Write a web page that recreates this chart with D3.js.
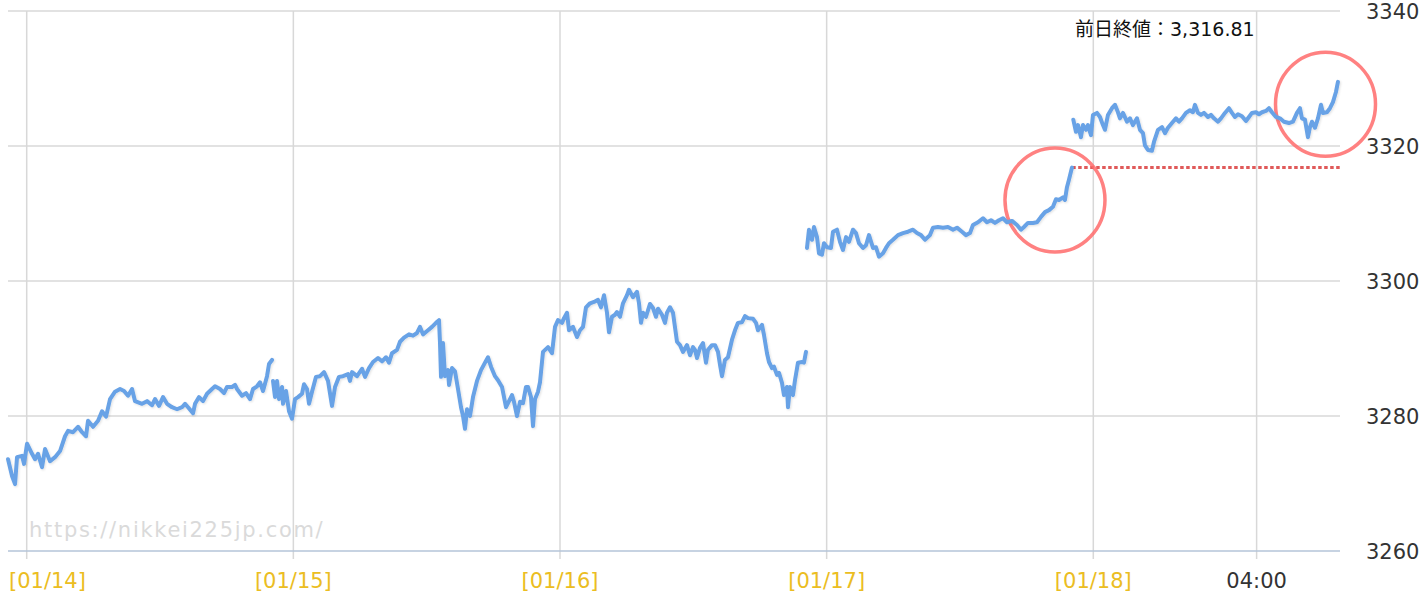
<!DOCTYPE html>
<html>
<head>
<meta charset="utf-8">
<script src="https://cdn.jsdelivr.net/npm/d3@7/dist/d3.min.js"></script>
<style>
    html, body { margin: 0; padding: 0; background: #fff; }
    svg { display: block; }
</style>
</head>
<body>
<svg id="chart" width="1425" height="597"></svg>
<script>
'use strict';

// hours from the [01/14] mark, index value
var session1 = [[-1.68,3273.6],[-1.32,3271.1],[-1.05,3269.9],[-0.87,3273.9],[-0.42,3274.1],[-0.24,3272.9],[0.03,3275.9],[0.48,3274.4],[0.75,3273.6],[1.02,3274.4],[1.38,3272.4],[1.65,3275.1],[2.10,3273.3],[2.55,3273.9],[3.00,3274.8],[3.45,3277.0],[3.72,3277.8],[4.17,3277.6],[4.62,3278.4],[4.98,3277.6],[5.34,3277.0],[5.52,3279.3],[5.97,3278.4],[6.42,3279.3],[6.78,3280.7],[7.14,3279.9],[7.50,3282.5],[7.95,3283.6],[8.40,3284.0],[8.76,3283.7],[9.12,3283.0],[9.48,3284.0],[9.75,3282.2],[10.38,3281.8],[10.83,3282.2],[11.28,3281.6],[11.55,3282.5],[11.91,3281.5],[12.27,3282.8],[12.63,3281.8],[13.08,3281.3],[13.53,3281.0],[13.98,3281.3],[14.25,3281.8],[14.52,3281.3],[14.97,3280.4],[15.15,3281.8],[15.51,3282.8],[15.87,3282.2],[16.23,3283.3],[16.68,3284.0],[16.95,3284.4],[17.40,3284.0],[17.76,3283.4],[18.03,3284.3],[18.48,3284.3],[18.75,3284.6],[18.93,3284.0],[19.38,3283.0],[19.74,3283.4],[20.10,3282.5],[20.37,3284.0],[20.73,3284.4],[21.00,3285.0],[21.27,3283.7],[21.63,3285.9],[21.81,3287.7],[22.08,3288.3]];

var session2 = [[22.17,3285.2],[22.35,3282.8],[22.53,3285.2],[22.71,3282.5],[22.98,3284.3],[23.07,3281.8],[23.34,3283.7],[23.61,3280.7],[23.88,3279.6],[24.15,3282.5],[24.42,3282.8],[24.78,3283.3],[24.96,3284.7],[25.23,3284.0],[25.41,3281.8],[25.68,3283.6],[26.04,3285.8],[26.40,3285.9],[26.76,3286.5],[27.12,3285.2],[27.48,3281.5],[27.75,3284.3],[28.11,3285.8],[28.47,3285.9],[28.92,3286.2],[29.10,3285.2],[29.28,3286.5],[29.73,3285.9],[30.18,3287.0],[30.45,3285.8],[30.81,3287.1],[31.17,3288.0],[31.62,3288.6],[31.98,3288.1],[32.34,3288.7],[32.61,3287.9],[32.88,3289.3],[33.33,3289.8],[33.60,3291.0],[33.96,3291.6],[34.41,3292.1],[34.77,3291.9],[35.13,3292.3],[35.40,3293.2],[35.67,3292.1],[36.12,3292.7],[36.48,3293.2],[36.84,3293.8],[37.11,3294.2],[37.20,3290.8],[37.29,3285.8],[37.47,3290.8],[37.65,3285.9],[37.92,3286.8],[38.01,3284.6],[38.28,3287.1],[38.55,3286.6],[38.82,3284.0],[39.09,3281.3],[39.27,3280.0],[39.45,3278.1],[39.63,3281.0],[39.90,3280.0],[40.17,3282.8],[40.53,3285.2],[40.89,3286.8],[41.25,3287.9],[41.52,3288.7],[41.79,3287.3],[42.15,3285.9],[42.42,3285.3],[42.78,3284.3],[43.14,3281.3],[43.32,3281.9],[43.68,3283.1],[43.86,3282.1],[44.13,3280.0],[44.40,3282.1],[44.67,3281.9],[44.94,3284.3],[45.12,3284.3],[45.39,3282.8],[45.57,3278.5],[45.75,3282.5],[46.02,3283.6],[46.20,3285.0],[46.47,3289.5],[46.92,3290.2],[47.28,3289.3],[47.55,3293.2],[47.82,3294.2],[48.18,3293.8],[48.36,3294.5],[48.63,3295.3],[48.81,3292.7],[49.17,3293.2],[49.53,3291.7],[49.80,3292.7],[50.07,3293.2],[50.34,3296.1],[50.70,3296.7],[51.06,3296.9],[51.42,3297.2],[51.69,3296.1],[51.96,3297.9],[52.23,3295.3],[52.41,3292.4],[52.68,3294.7],[52.95,3295.0],[53.13,3295.4],[53.40,3294.7],[53.67,3296.7],[54.03,3297.9],[54.21,3298.7],[54.57,3297.6],[54.93,3298.4],[55.11,3296.7],[55.29,3293.8],[55.47,3295.3],[55.74,3294.7],[56.10,3296.6],[56.37,3296.0],[56.64,3294.7],[56.82,3295.9],[57.18,3295.0],[57.45,3293.8],[57.63,3295.3],[57.90,3296.1],[58.17,3295.3],[58.53,3291.0],[58.80,3290.5],[59.07,3289.5],[59.43,3290.5],[59.70,3289.0],[59.97,3290.2],[60.15,3289.8],[60.33,3288.6],[60.60,3290.1],[60.87,3290.8],[61.14,3287.9],[61.32,3289.8],[61.68,3290.5],[61.95,3290.5],[62.22,3289.5],[62.40,3287.6],[62.58,3285.9],[62.85,3288.3],[63.12,3288.7],[63.48,3291.3],[63.75,3292.7],[64.02,3293.8],[64.38,3293.9],[64.65,3294.8],[64.92,3294.5],[65.37,3294.4],[65.64,3293.8],[65.82,3292.7],[66.18,3293.5],[66.36,3292.0],[66.63,3289.3],[66.81,3288.0],[67.08,3287.1],[67.26,3287.3],[67.53,3286.1],[67.71,3286.4],[67.98,3284.9],[68.16,3283.1],[68.43,3284.3],[68.52,3281.3],[68.70,3284.3],[68.97,3283.1],[69.15,3285.3],[69.42,3287.9],[69.78,3288.0],[69.96,3287.9],[70.14,3289.5]];

var session3 = [[70.23,3304.9],[70.41,3307.6],[70.68,3306.1],[70.86,3308.0],[71.13,3306.5],[71.31,3304.1],[71.58,3303.9],[71.76,3305.6],[72.03,3305.0],[72.39,3304.9],[72.57,3307.3],[72.93,3307.6],[73.20,3305.8],[73.47,3304.6],[73.74,3306.5],[74.01,3305.8],[74.37,3307.6],[74.64,3307.1],[74.91,3305.6],[75.27,3304.9],[75.54,3305.3],[75.81,3306.8],[76.17,3304.9],[76.44,3305.0],[76.71,3303.6],[77.07,3304.1],[77.34,3304.9],[77.61,3305.6],[77.97,3306.1],[78.42,3306.8],[78.87,3307.1],[79.32,3307.3],[79.77,3307.6],[80.13,3307.1],[80.49,3306.8],[80.85,3306.1],[81.30,3306.8],[81.57,3307.9],[82.02,3308.0],[82.47,3307.9],[82.92,3308.0],[83.37,3307.6],[83.73,3307.9],[84.18,3307.3],[84.54,3306.8],[84.90,3307.1],[85.17,3308.3],[85.62,3308.7],[86.07,3309.3],[86.43,3308.7],[86.79,3309.0],[87.15,3308.6],[87.51,3309.0],[87.87,3309.3],[88.23,3308.7],[88.68,3308.9],[89.13,3308.3],[89.49,3307.6],[89.76,3308.0],[90.12,3308.6],[90.57,3308.6],[90.93,3308.7],[91.29,3309.5],[91.65,3310.2],[92.01,3310.5],[92.37,3311.0],[92.64,3312.1],[92.91,3312.0],[93.27,3312.4],[93.45,3312.0],[93.63,3313.9],[93.81,3315.0],[94.08,3316.8]];

var session4 = [[94.20,3323.9],[94.44,3322.1],[94.62,3323.1],[94.89,3321.3],[95.07,3323.1],[95.34,3322.4],[95.52,3323.1],[95.79,3321.6],[95.97,3324.6],[96.33,3324.9],[96.60,3324.3],[96.87,3323.1],[97.05,3322.4],[97.32,3324.6],[97.68,3325.6],[97.95,3326.1],[98.22,3325.0],[98.40,3324.1],[98.67,3324.9],[99.03,3323.6],[99.30,3324.1],[99.57,3323.1],[99.93,3324.1],[100.20,3322.4],[100.47,3321.9],[100.65,3320.1],[100.92,3319.4],[101.28,3319.3],[101.46,3320.6],[101.82,3322.4],[102.18,3322.8],[102.45,3321.9],[102.72,3322.7],[103.08,3323.4],[103.44,3324.1],[103.71,3323.6],[103.98,3324.1],[104.34,3324.9],[104.70,3325.3],[104.97,3325.0],[105.15,3326.1],[105.42,3324.9],[105.69,3324.6],[105.96,3324.9],[106.32,3324.3],[106.59,3324.6],[106.86,3324.1],[107.22,3323.6],[107.49,3324.1],[107.85,3324.9],[108.21,3325.6],[108.48,3324.9],[108.75,3324.3],[109.02,3324.7],[109.38,3324.4],[109.74,3323.7],[110.01,3324.3],[110.28,3324.9],[110.64,3325.0],[110.91,3324.7],[111.18,3325.0],[111.54,3325.2],[111.81,3325.6],[112.08,3325.0],[112.44,3324.3],[112.80,3324.1],[113.16,3323.6],[113.61,3323.4],[113.97,3323.6],[114.33,3324.9],[114.60,3325.6],[114.78,3324.1],[115.05,3323.9],[115.32,3321.3],[115.50,3322.8],[115.68,3323.6],[115.95,3322.7],[116.22,3324.1],[116.49,3326.1],[116.67,3324.9],[117.03,3325.0],[117.30,3325.6],[117.57,3326.5],[117.84,3328.0],[118.02,3329.5]];

var sessions = [session1, session2, session3, session4];

var xTickHours = [0, 24, 48, 72, 96, 110.7];
var xTickLabels = ['[01/14]', '[01/15]', '[01/16]', '[01/17]', '[01/18]', '04:00'];
var yTicks = [3260, 3280, 3300, 3320, 3340];

var prevClose = 3316.81;
var prevCloseStart = 94.1;
var prevCloseLabel = '前日終値：3,316.81';
var watermark = 'https://nikkei225jp.com/';

// circled spots [hour, value]
var highlights = [[92.55, 3312.0], [116.9, 3326.2]];

var builder = {
    left: 8,
    right: 1340,
    top: 11,
    bottom: 551,

    _scales: function () {
        return {
            x: d3.scaleLinear().domain([0, 96]).range([26.7, 1093.3]),
            y: d3.scaleLinear().domain([3260, 3340]).range([this.bottom, this.top])
        };
    },

    _grid: function (svg, x, y) {
        var self = this;
        var g = svg.append('g').attr('class', 'grid');

        g.selectAll('line.h')
            .data(yTicks.filter(function (d) { return d !== 3260; }))
            .enter()
            .append('line')
            .attr('class', 'h')
            .attr('x1', self.left)
            .attr('x2', self.right)
            .attr('y1', function (d) { return y(d); })
            .attr('y2', function (d) { return y(d); })
            .attr('stroke', '#d8d8d8')
            .attr('stroke-width', 1.5);

        g.selectAll('line.v')
            .data(xTickHours)
            .enter()
            .append('line')
            .attr('class', 'v')
            .attr('x1', function (d) { return x(d); })
            .attr('x2', function (d) { return x(d); })
            .attr('y1', self.top)
            .attr('y2', self.bottom + 8)
            .attr('stroke', '#d8d8d8')
            .attr('stroke-width', 1.5);

        // bottom axis line
        g.append('line')
            .attr('x1', self.left)
            .attr('x2', self.right)
            .attr('y1', y(3260))
            .attr('y2', y(3260))
            .attr('stroke', '#b4c4d8')
            .attr('stroke-width', 1.5);
    },

    _axes: function (svg, x, y) {
        var self = this;

        svg.append('g')
            .selectAll('text')
            .data(yTicks)
            .enter()
            .append('text')
            .attr('x', 1366)
            .attr('y', function (d) { return y(d) + 8; })
            .attr('fill', '#333')
            .style('font', '21px "DejaVu Sans", sans-serif')
            .text(function (d) { return d; });

        var labels = svg.append('g')
            .selectAll('text')
            .data(xTickHours)
            .enter()
            .append('text')
            .attr('x', function (d) { return x(d); })
            .attr('y', 588)
            .attr('text-anchor', 'middle')
            .attr('fill', function (d, i) {
                return xTickLabels[i].charAt(0) === '[' ? '#ebbd22' : '#333';
            })
            .style('font', '21px "DejaVu Sans", sans-serif')
            .text(function (d, i) { return xTickLabels[i]; });

        // keep the first label inside the chart
        labels.each(function (d) {
            var w = this.getComputedTextLength();
            if (x(d) - w / 2 < self.left + 1) {
                d3.select(this).attr('x', self.left + 1 + w / 2);
            }
        });
    },

    _series: function (svg, x, y) {
        var line = d3.line()
            .x(function (d) { return x(d[0]); })
            .y(function (d) { return y(d[1]); });

        var defs = svg.append('defs');
        defs.append('filter')
            .attr('id', 'shadow')
            .attr('x', '-5%').attr('y', '-5%')
            .attr('width', '110%').attr('height', '110%')
            .append('feDropShadow')
            .attr('dx', 1).attr('dy', 1)
            .attr('stdDeviation', 1)
            .attr('flood-color', '#000')
            .attr('flood-opacity', 0.12);

        svg.append('g')
            .selectAll('path')
            .data(sessions)
            .enter()
            .append('path')
            .attr('d', line)
            .attr('fill', 'none')
            .attr('stroke', '#68a2e6')
            .attr('stroke-width', 4)
            .attr('stroke-linejoin', 'round')
            .attr('stroke-linecap', 'round')
            .attr('filter', 'url(#shadow)');
    },

    _annotations: function (svg, x, y) {
        var self = this;

        svg.append('line')
            .attr('x1', x(prevCloseStart))
            .attr('x2', self.right)
            .attr('y1', y(prevClose))
            .attr('y2', y(prevClose))
            .attr('stroke', '#e05a5a')
            .attr('stroke-width', 3)
            .attr('stroke-dasharray', '3.5,2.5');

        svg.append('text')
            .attr('x', 1075)
            .attr('y', 36)
            .attr('fill', '#111')
            .style('font', '19px "DejaVu Sans", "Noto Sans CJK JP", sans-serif')
            .text(prevCloseLabel);

        svg.append('g')
            .selectAll('ellipse')
            .data(highlights)
            .enter()
            .append('ellipse')
            .attr('cx', function (d) { return x(d[0]); })
            .attr('cy', function (d) { return y(d[1]); })
            .attr('rx', 50)
            .attr('ry', 52)
            .attr('fill', 'none')
            .attr('stroke', '#ff6b6b')
            .attr('stroke-opacity', 0.85)
            .attr('stroke-width', 3.5);

        svg.append('text')
            .attr('x', 29)
            .attr('y', 537)
            .attr('fill', '#dadada')
            .style('font', '21px "DejaVu Sans", sans-serif')
            .style('letter-spacing', '1.7px')
            .text(watermark);
    },

    build: function (svg) {
        var s = this._scales();

        this._grid(svg, s.x, s.y);
        this._annotations(svg, s.x, s.y);
        this._series(svg, s.x, s.y);
        this._axes(svg, s.x, s.y);
    }
};

builder.build(d3.select('#chart'));
</script>
</body>
</html>
